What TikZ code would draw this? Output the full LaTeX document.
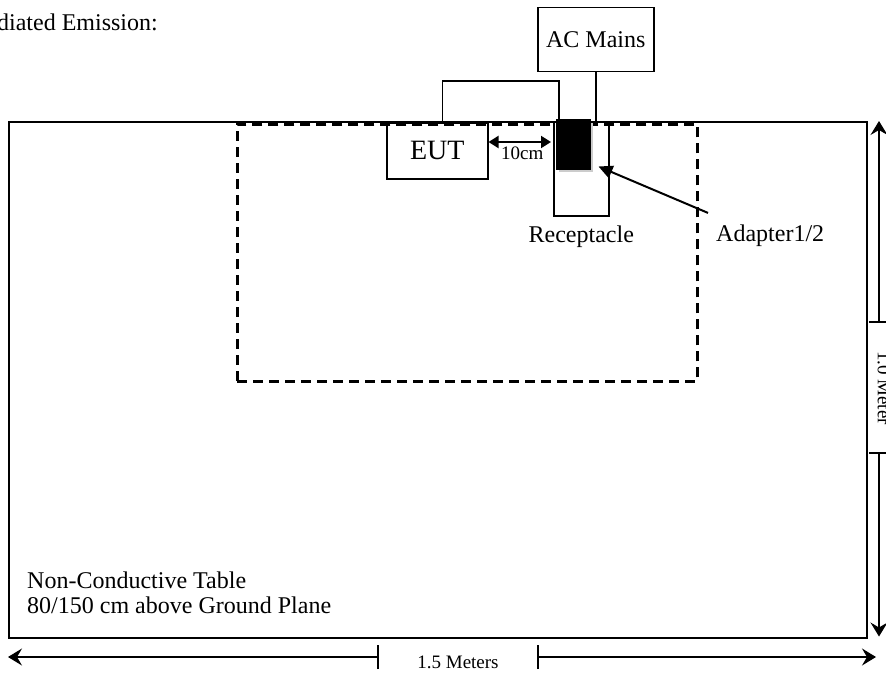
\documentclass[tikz,border=0pt]{standalone}
\usepackage{fontspec}
\setmainfont{Liberation Serif}
\usetikzlibrary{arrows.meta,positioning}

\tikzset{
  box/.style={draw, line width=1.5pt, inner sep=0pt, anchor=north west},
  lbl/.style={font=\fontsize{24}{25}\selectfont, inner sep=0pt},
  smalllbl/.style={font=\fontsize{19}{21}\selectfont, inner sep=0pt},
  wire/.style={line width=1.5pt},
  dim/.style={line width=1.2pt, -{Stealth[length=14pt,width=17pt,inset=5pt]}},
  tenarrow/.style={line width=2pt, {Triangle[length=10pt,width=12pt]}-{Triangle[length=10pt,width=12pt]}},
  pointer/.style={line width=2pt, -{Triangle[length=14pt,width=13pt]}}
}

\begin{document}
\begin{tikzpicture}[x=1pt,y=-1pt]
        \useasboundingbox[fill=white] (0,0) rectangle (886,677);

        \node[lbl, anchor=east] (title) at (158,22) {Radiated Emission:};

        \node[box, minimum width=858pt, minimum height=516pt] (table) at (8,121) {};
        \node[box, dashed, dash pattern=on 10pt off 6pt, line width=2.5pt, minimum width=460pt, minimum height=257pt] (setup) at (236,123) {};

        \node[box, minimum width=116pt, minimum height=64pt, lbl] (acmains) at (537,7) {AC Mains};
        \node[box, minimum width=101pt, minimum height=56pt, font=\fontsize{28}{30}\selectfont] (eut) at (386,122) {EUT};
        \node[box, minimum width=55pt, minimum height=94pt] (recept) at (553,121) {};
        \fill[gray!40] (559,123) rectangle (593,172);
        \node[box, fill=black, minimum width=33pt, minimum height=49pt] (adapter) at (556,119) {};

        \node[lbl, below=9pt of recept] (receptlabel) {Receptacle};
        \node[lbl, anchor=west] (adapterlabel) at (716,236) {Adapter1/2};
        \node[lbl, align=left, anchor=south west] (tablelabel) at ([xshift=19pt,yshift=25pt]table.south west) {Non-Conductive Table\\80/150 cm above Ground Plane};

        % cables
        \draw[wire] ([xshift=5pt]eut.north) -- ++(0,-41) -| ([xshift=3pt]adapter.north west);
        \draw[wire] (acmains.south) -- (acmains.south |- table.north);

        \coordinate (ta) at ([yshift=-20pt]eut.north east);
        \draw[tenarrow, shorten >=5pt] (ta) -- (ta -| adapter.west) node[midway, below=4pt, smalllbl] {10cm};
        \draw[pointer] ([xshift=-8pt,yshift=12pt]adapterlabel.north west) -- ([xshift=8pt,yshift=3pt]adapter.south east);

        % 1.0 Meter
        \node[smalllbl, rotate=-90] (vlabel) at (884,388) {1.0 Meter};
        \coordinate (vtick1) at (879,322);
        \coordinate (vtick2) at (879,453);
        \draw[dim] (vtick1) -- (vtick1 |- table.north);
        \draw[dim] (vtick2) -- ([yshift=2pt]vtick2 |- table.south);
        \draw[line width=1.2pt] ([xshift=-10pt]vtick1) -- ([xshift=8pt]vtick1);
        \draw[line width=1.2pt] ([xshift=-10pt]vtick2) -- ([xshift=8pt]vtick2);

        % 1.5 Meters
        \node[smalllbl] (hlabel) at (458,662) {1.5 Meters};
        \coordinate (htick1) at (378,657);
        \coordinate (htick2) at (538,657);
        \draw[dim] (htick1) -- (8,657);
        \draw[dim] (htick2) -- (876,657);
        \draw[line width=1.2pt] ([yshift=-12pt]htick1) -- ([yshift=12pt]htick1);
        \draw[line width=1.2pt] ([yshift=-12pt]htick2) -- ([yshift=12pt]htick2);

    \end{tikzpicture}
\end{document}
